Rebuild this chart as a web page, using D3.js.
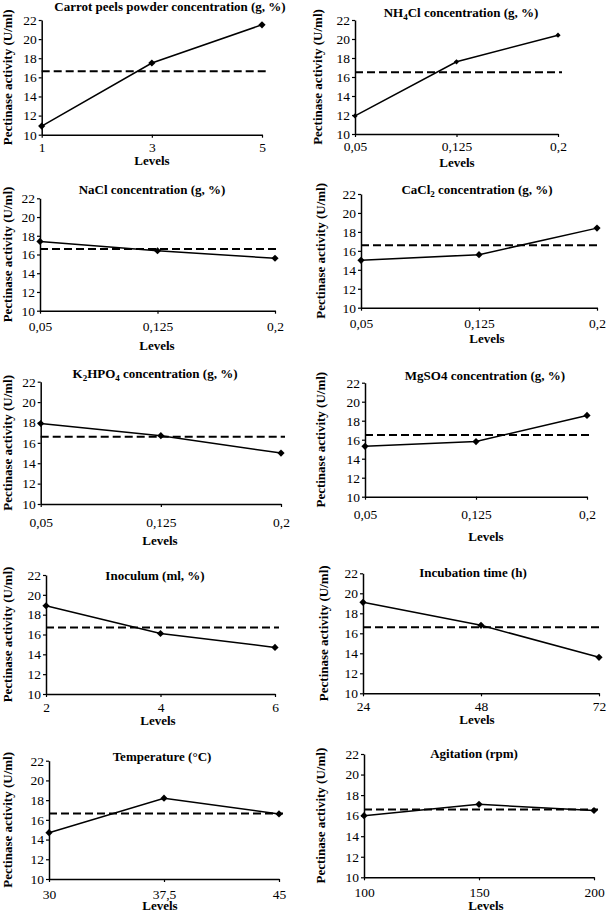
<!DOCTYPE html>
<html>
<head>
<meta charset="utf-8">
<script src="https://cdn.jsdelivr.net/npm/d3@7"></script>
<style>
  body { margin: 0; background: #fff; }
</style>
</head>
<body>
<svg id="chart" width="608" height="911"></svg>
<script>
// Panel titles ("_n" marks a subscript digit)
const titles = [
  "Carrot peels powder concentration (g, %)",
  "NH_4Cl concentration (g, %)",
  "NaCl concentration (g, %)",
  "CaCl_2 concentration (g, %)",
  "K_2HPO_4 concentration (g, %)",
  "MgSO4 concentration (g, %)",
  "Inoculum (ml, %)",
  "Incubation time (h)",
  "Temperature (°C)",
  "Agitation (rpm)"
];

// x tick labels (levels) for each factor
const levelLabels = [
  ["1", "3", "5"],
  ["0,05", "0,125", "0,2"],
  ["0,05", "0,125", "0,2"],
  ["0,05", "0,125", "0,2"],
  ["0,05", "0,125", "0,2"],
  ["0,05", "0,125", "0,2"],
  ["2", "4", "6"],
  ["24", "48", "72"],
  ["30", "37,5", "45"],
  ["100", "150", "200"]
];

// mean pectinase activity (U/ml) at each level
const activity = [
  [10.9, 17.5, 21.5],
  [11.9, 17.6, 20.4],
  [17.4, 16.4, 15.6],
  [15.0, 15.6, 18.4],
  [17.9, 16.7, 15.0],
  [15.3, 15.8, 18.55],
  [18.9, 16.1, 14.7],
  [19.1, 16.8, 13.6],
  [14.7, 18.2, 16.6],
  [16.0, 17.1, 16.5]
];

// overall mean (dashed line)
const meanActivity = [16.65, 16.5, 16.6, 16.6, 16.6, 16.5, 16.7, 16.6, 16.65, 16.6];

const yTicks = [10, 12, 14, 16, 18, 20, 22];

// where each small chart sits on the page
const frames = [
  { x0: 41.7, x1: 262, top: 20,    bottom: 134.7, titleX: 170, titleY: 6,     tickY: 13.2, levelsX: 152, levelsY: 160.5, labelX: 7 },
  { x0: 355,  x1: 558, top: 20,    bottom: 134,   titleX: 461, titleY: 12.3,  tickY: 12.7, levelsX: 457, levelsY: 162.7, labelX: 317.3 },
  { x0: 40,   x1: 275, top: 198.3, bottom: 310.7, titleX: 152, titleY: 189,   tickY: 16,   levelsX: 157, levelsY: 345,   labelX: 7 },
  { x0: 361,  x1: 597, top: 194,   bottom: 307.7, titleX: 477, titleY: 189.3, tickY: 15.6, levelsX: 487, levelsY: 338.3, labelX: 320.7 },
  { x0: 40.7, x1: 281, top: 381.7, bottom: 504,   titleX: 155, titleY: 373,   tickY: 18,   levelsX: 160, levelsY: 540,   labelX: 7 },
  { x0: 365,  x1: 587, top: 382.7, bottom: 496.7, titleX: 485, titleY: 375.7, tickY: 17.3, levelsX: 486, levelsY: 536,   labelX: 320.7 },
  { x0: 46,   x1: 275, top: 575,   bottom: 694,   titleX: 155, titleY: 575,   tickY: 13.8, levelsX: 158, levelsY: 720.5, labelX: 7 },
  { x0: 363,  x1: 599, top: 573.3, bottom: 693.3, titleX: 473, titleY: 572.3, tickY: 13.4, levelsX: 477, levelsY: 719.5, labelX: 323 },
  { x0: 49,   x1: 279, top: 760.7, bottom: 879,   titleX: 162, titleY: 756.7, tickY: 15,   levelsX: 160, levelsY: 905,   labelX: 7 },
  { x0: 364,  x1: 594, top: 754,   bottom: 877.3, titleX: 474, titleY: 753.3, tickY: 15.5, levelsX: 486, levelsY: 905,   labelX: 320.7 }
];

const serif = "'Liberation Serif'";
const svg = d3.select("#chart");
const tickFont = 13.5;

// write a title with subscript digits
function writeTitle(textSel, str) {
  const parts = str.split(/_(\d)/);
  let shifted = false;
  parts.forEach((p, i) => {
    if (!p) return;
    const sub = i % 2 === 1;
    const t = textSel.append("tspan").text(p);
    if (sub && !shifted) { t.attr("dy", 3).style("font-size", "9px"); shifted = true; }
    else if (sub) { t.style("font-size", "9px"); }
    else if (shifted) { t.attr("dy", -3); shifted = false; }
  });
}

titles.forEach((title, i) => {
  const f = frames[i];
  const g = svg.append("g");

  const x = d3.scalePoint()
    .domain(levelLabels[i])
    .range([f.x0, f.x1]);

  const y = d3.scaleLinear()
    .domain([10, 22])
    .range([f.bottom, f.top]);

  // y axis
  const yAxis = g.append("g")
    .attr("transform", `translate(${f.x0},0)`)
    .call(d3.axisLeft(y).tickValues(yTicks).tickSize(3).tickSizeOuter(0).tickPadding(2));

  // x axis
  const xAxis = g.append("g")
    .attr("transform", `translate(0,${f.bottom})`)
    .call(d3.axisBottom(x).tickSize(3).tickSizeOuter(0).tickPadding(f.tickY - 8));

  [yAxis, xAxis].forEach(a => {
    a.attr("font-family", null).attr("font-size", null);
    a.selectAll("text")
      .style("font-family", serif)
      .style("font-size", tickFont + "px")
      .attr("fill", "#000");
    a.select(".domain").attr("stroke", "#000").attr("stroke-width", 1.5);
    a.selectAll(".tick line").attr("stroke", "#000").attr("stroke-width", 1.2);
  });

  // overall mean, dashed
  g.append("line")
    .attr("x1", f.x0)
    .attr("x2", f.x1 + 4)
    .attr("y1", y(meanActivity[i]))
    .attr("y2", y(meanActivity[i]))
    .attr("stroke", "#000")
    .attr("stroke-width", 2)
    .attr("stroke-dasharray", "8,4");

  const pts = levelLabels[i].map((l, j) => ({ level: l, value: activity[i][j] }));

  const line = d3.line()
    .x(d => x(d.level))
    .y(d => y(d.value));

  g.append("path")
    .datum(pts)
    .attr("fill", "none")
    .attr("stroke", "#000")
    .attr("stroke-width", 1.5)
    .attr("d", line);

  g.selectAll(".mark")
    .data(pts)
    .enter()
    .append("path")
    .attr("class", "mark")
    .attr("d", d3.symbol(d3.symbolSquare, i === 1 ? 14 : 26))
    .attr("transform", d => `translate(${x(d.level)},${y(d.value)}) rotate(45)`)
    .attr("fill", "#000");

  // title
  const t = g.append("text")
    .attr("x", f.titleX)
    .attr("y", f.titleY)
    .attr("dy", "0.35em")
    .attr("text-anchor", "middle")
    .style("font-family", serif)
    .style("font-weight", "bold")
    .style("font-size", "13px");
  writeTitle(t, title);

  // x label
  g.append("text")
    .attr("x", f.levelsX)
    .attr("y", f.levelsY)
    .attr("dy", "0.35em")
    .attr("text-anchor", "middle")
    .style("font-family", serif)
    .style("font-weight", "bold")
    .style("font-size", "13px")
    .text("Levels");

  // y label
  g.append("text")
    .attr("transform", `translate(${f.labelX},${(f.top + f.bottom) / 2}) rotate(-90)`)
    .attr("dy", "0.35em")
    .attr("text-anchor", "middle")
    .style("font-family", serif)
    .style("font-weight", "bold")
    .style("font-size", "13px")
    .text("Pectinase activity (U/ml)");
});
</script>
</body>
</html>
